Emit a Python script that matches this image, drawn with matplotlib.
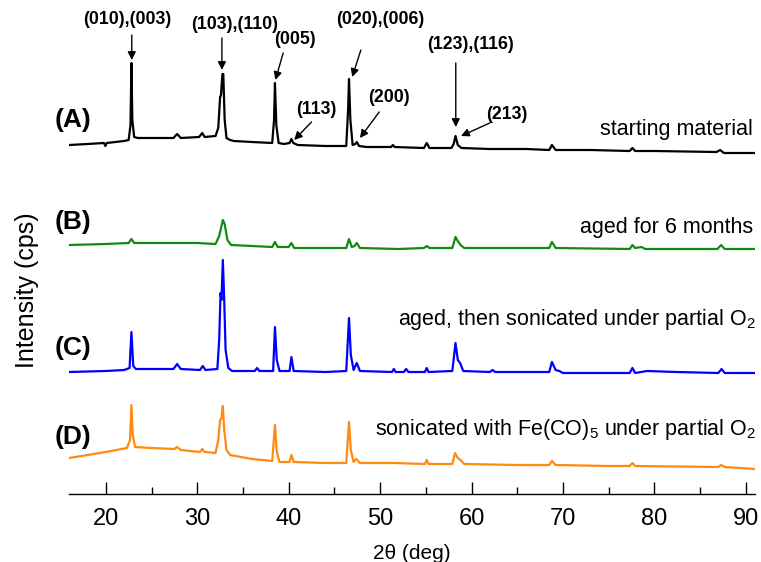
import matplotlib
matplotlib.use('Agg')
import matplotlib.pyplot as plt
from matplotlib.ticker import MultipleLocator

plt.rcParams['font.family'] = ['Liberation Sans', 'DejaVu Sans']
plt.rcParams['mathtext.fontset'] = 'custom'
plt.rcParams['mathtext.rm'] = 'Liberation Sans'
plt.rcParams['mathtext.default'] = 'rm'

# XRD traces (2theta in deg, intensity in arbitrary cps, already offset)
tth_A = [16.0, 18.0, 19.8, 19.95, 20.1, 22.0, 22.5, 22.7, 22.8, 22.9, 23.1, 23.5, 25.0,
         27.4, 27.8, 28.2, 30.2, 30.55, 30.8, 32.0, 32.3, 32.5, 32.6, 32.75, 32.85, 33.0,
         33.2, 33.6, 34.0, 36.0, 38.2, 38.4, 38.5, 38.65, 38.9, 39.5, 40.1, 40.3, 40.5,
         41.0, 44.0, 46.3, 46.5, 46.6, 46.75, 47.0, 47.3, 47.45, 47.7, 48.5, 51.2, 51.4,
         51.6, 54.8, 55.1, 55.4, 57.8, 58.05, 58.25, 58.5, 58.9, 62.0, 66.0, 68.5, 68.8,
         69.2, 73.0, 77.3, 77.6, 77.9, 80.0, 86.8, 87.2, 87.6, 91.0]
int_A = [349, 350, 351, 348, 351, 353, 354, 369, 431, 374, 357, 356, 356,
         356, 360, 356, 357, 361, 357, 358, 366, 397, 399, 420, 420, 374,
         356, 354, 353, 352, 351, 374, 411, 369, 351, 350, 351, 355, 351,
         349, 348, 348, 384, 415, 374, 349, 350, 352, 348, 347, 347, 349,
         347, 346, 351, 346, 346, 350, 358, 349, 346, 345, 345, 344, 349,
         344, 344, 343, 346, 343, 343, 342, 344, 341, 341]

tth_B = [16.0, 20.0, 22.5, 22.8, 23.1, 25.0, 28.0, 30.0, 32.0, 32.4, 32.8, 33.0, 33.3,
         33.7, 36.0, 38.2, 38.5, 38.8, 40.0, 40.3, 40.6, 45.0, 46.3, 46.6, 46.9, 47.2,
         47.45, 47.8, 52.0, 54.8, 55.1, 55.4, 57.9, 58.25, 58.5, 58.8, 59.2, 65.0, 68.5,
         68.8, 69.2, 77.3, 77.6, 77.9, 78.6, 79.0, 86.9, 87.3, 87.7, 91.0]
int_B = [249, 250, 251, 255, 251, 251, 251, 251, 250, 258, 274, 270, 254,
         249, 248, 247, 252, 247, 247, 251, 246, 246, 246, 255, 247, 248,
         251, 246, 245, 246, 248, 246, 246, 257, 253, 249, 246, 246, 246,
         252, 246, 245, 249, 246, 247, 245, 245, 249, 245, 245]

tth_C = [16.0, 20.0, 22.0, 22.6, 22.8, 23.0, 23.3, 27.4, 27.8, 28.2, 30.3, 30.6, 30.9,
         32.2, 32.4, 32.55, 32.65, 32.8, 32.95, 33.1, 33.4, 33.8, 36.3, 36.55, 36.8,
         38.3, 38.5, 38.7, 39.0, 40.1, 40.3, 40.55, 44.0, 46.3, 46.6, 46.8, 47.1, 47.45,
         47.8, 51.3, 51.5, 51.7, 52.6, 52.85, 53.1, 54.9, 55.1, 55.3, 57.9, 58.25, 58.5,
         58.75, 59.1, 62.0, 62.3, 62.6, 68.5, 68.8, 69.2, 69.6, 70.0, 77.3, 77.6, 77.9,
         79.2, 82.4, 87.0, 87.35, 87.7, 91.0]
int_C = [122, 123, 124, 126, 162, 128, 125, 125, 130, 125, 124, 128, 124,
         125, 154, 201, 194, 234, 194, 144, 126, 123, 123, 126, 123,
         123, 167, 134, 123, 123, 137, 123, 122, 123, 176, 139, 124, 131,
         123, 122, 125, 122, 122, 125, 122, 122, 126, 122, 123, 151, 134,
         131, 123, 122, 124, 122, 122, 132, 124, 123, 121, 121, 126, 121,
         123, 122, 121, 125, 121, 121]

tth_D = [16.0, 18.0, 20.0, 22.3, 22.65, 22.8, 22.95, 23.2, 25.0, 27.5, 27.8, 28.2, 30.3,
         30.55, 30.8, 32.0, 32.3, 32.5, 32.65, 32.8, 32.95, 33.2, 33.6, 36.0, 38.2, 38.5,
         38.7, 39.0, 40.1, 40.3, 40.55, 44.0, 46.3, 46.6, 46.8, 47.1, 47.4, 47.8, 51.5,
         54.9, 55.1, 55.3, 57.9, 58.2, 58.5, 58.8, 59.2, 65.0, 68.5, 68.8, 69.2, 75.0,
         77.3, 77.6, 77.9, 87.0, 87.3, 87.7, 91.0]
int_D = [36, 39, 42, 46, 54, 89, 59, 47, 46, 45, 47, 44, 42,
         45, 42, 41, 54, 74, 76, 88, 64, 44, 39, 35, 33, 69,
         42, 32, 32, 39, 32, 31, 31, 72, 44, 32, 35, 31, 31,
         30, 34, 30, 30, 41, 36, 34, 30, 29, 29, 33, 29, 28,
         28, 31, 28, 27, 29, 27, 25]

traces = [(tth_A, int_A, 'black'), (tth_B, int_B, '#118a11'),
          (tth_C, int_C, '#0000ff'), (tth_D, int_D, '#ff8a10')]

panel_tags = ['(A)', '(B)', '(C)', '(D)']
panel_tag_y = [374, 272, 146, 57]
descriptions = ['starting material', 'aged for 6 months',
                'aged, then sonicated under partial O$_2$',
                'sonicated with Fe(CO)$_5$ under partial O$_2$']
description_y = [359, 261, 169, 59]
description_x = [90.8, 90.8, 91.1, 91.1]

# Miller index labels: text centre, arrow tail, arrow tip
hkl_labels = ['(010),(003)', '(103),(110)', '(005)', '(113)',
              '(020),(006)', '(200)', '(123),(116)', '(213)']
hkl_text = [(22.3, 474), (34.1, 469), (40.7, 454), (43.0, 384),
            (50.0, 474), (51.0, 396), (59.9, 449), (63.9, 379)]
hkl_tail = [(22.84, 459), (32.7, 456), (39.4, 441), (42.5, 372),
            (47.9, 444), (49.9, 382), (58.28, 431), (62.0, 371)]
hkl_tip = [(22.84, 434), (32.7, 424), (38.55, 414), (40.6, 354),
           (46.95, 417), (47.8, 356), (58.28, 367), (58.85, 358)]

fig = plt.figure(figsize=(7.61, 5.62), dpi=100)
ax = fig.add_axes([0.091, 0.121, 0.901, 0.879])

for tth, inten, col in traces:
    ax.plot(tth, inten, color=col, lw=1.6)

for tag, y in zip(panel_tags, panel_tag_y):
    ax.text(14.45, y, tag, fontsize=19, fontweight='bold', ha='left', va='center',
            clip_on=False)

for txt, x, y in zip(descriptions, description_x, description_y):
    ax.text(x, y, txt, fontsize=15.5, ha='right', va='baseline', clip_on=False)

for lab, pt, tail, tip in zip(hkl_labels, hkl_text, hkl_tail, hkl_tip):
    ax.text(pt[0], pt[1], lab, fontsize=12.8, fontweight='bold', ha='center', va='center')
    ax.annotate('', xy=tip, xytext=tail,
                arrowprops=dict(arrowstyle='-|>', color='k', lw=1.0,
                                mutation_scale=12, shrinkA=0, shrinkB=0))

ax.set_xlim(16, 91)
ax.set_ylim(0, 494)
for side in ['top', 'right', 'left']:
    ax.spines[side].set_visible(False)
ax.spines['bottom'].set_linewidth(1.0)
ax.set_yticks([])
ax.xaxis.set_major_locator(MultipleLocator(10))
ax.xaxis.set_minor_locator(MultipleLocator(5))
ax.tick_params(axis='x', which='major', direction='in', length=9, width=1,
               labelsize=17, pad=10)
ax.tick_params(axis='x', which='minor', direction='in', length=5, width=1)
ax.set_xlabel('2θ (deg)', fontsize=15, labelpad=10)
fig.text(0.036, 0.484, 'Intensity (cps)', fontsize=18, rotation=90,
         ha='center', va='center')

fig.savefig('out.png', dpi=100)
